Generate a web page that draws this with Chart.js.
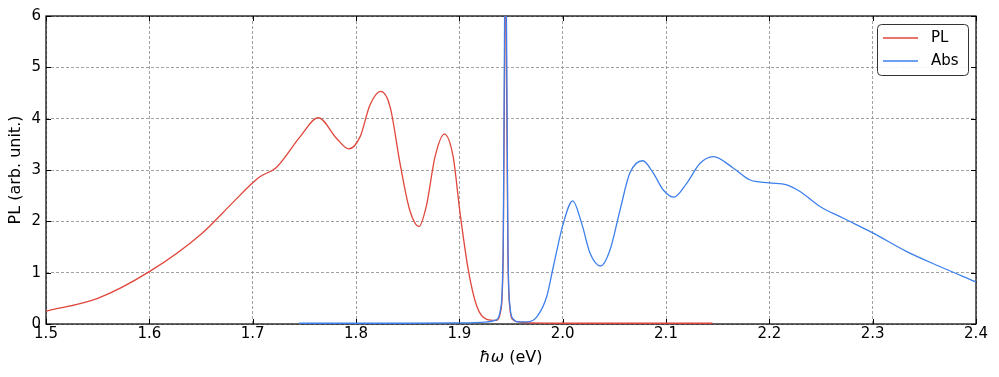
<!DOCTYPE html>
<html>
<head>
<meta charset="utf-8">
<script src="https://cdn.jsdelivr.net/npm/chart.js@4/dist/chart.umd.min.js"></script>
<style>
  html, body { margin:0; padding:0; background:#fff; }
  #wrap { width:999px; height:377px; }
</style>
</head>
<body>
<div id="wrap"><canvas id="c" width="999" height="377"></canvas></div>
<script>
// Datos
const plX = [1.50,1.55,1.60,1.65,1.68,1.70,1.707,1.723,1.746,1.7635,1.781,1.793,1.804,1.8136,1.824,1.833,1.8426,1.852,1.861,1.868,1.8765,1.8855,1.894,1.9007,1.9087,1.917,1.9265,1.936,1.940,1.9425,1.9438,1.9447,1.9456,1.947,1.949,1.952,1.958,1.968,2.00,2.145];
const plY = [0.25,0.50,1.02,1.75,2.35,2.75,2.87,3.05,3.65,4.02,3.62,3.41,3.65,4.27,4.53,4.23,3.13,2.22,1.90,2.29,3.26,3.70,3.26,2.16,1.05,0.34,0.09,0.07,0.25,1.4,5.0,8.5,5.0,1.4,0.3,0.08,0.04,0.02,0.015,0.015];
const absX = [1.745,1.85,1.90,1.925,1.936,1.940,1.9425,1.9438,1.9447,1.9456,1.947,1.949,1.952,1.958,1.965,1.975,1.9845,1.991,2.0006,2.0097,2.0184,2.0265,2.0368,2.0458,2.0555,2.065,2.0775,2.0877,2.0974,2.1077,2.12,2.133,2.1458,2.165,2.181,2.20,2.2168,2.2297,2.249,2.2716,2.3006,2.333,2.365,2.40];
const absY = [0.015,0.015,0.02,0.035,0.08,0.3,1.6,6.0,10.0,6.0,1.6,0.35,0.1,0.04,0.04,0.14,0.53,1.12,1.96,2.40,1.96,1.38,1.13,1.44,2.22,2.94,3.18,2.94,2.61,2.47,2.74,3.13,3.26,3.04,2.81,2.75,2.71,2.58,2.29,2.06,1.77,1.41,1.12,0.82];
const xTicks = [1.5,1.6,1.7,1.8,1.9,2.0,2.1,2.2,2.3,2.4];
const yTicks = [0,1,2,3,4,5,6];

const FONT = 'DejaVu Sans';
const RED = '#e0463b';
const BLUE = '#3d80ec';

function pts(xs, ys){ return xs.map((x,i)=>({x:x, y:ys[i]})); }

// marco, ticks hacia dentro, título x y leyenda
const framePlugin = {
  id:'frame',
  beforeDatasetsDraw(chart){
    const c = chart.ctx, a = chart.chartArea;
    const xs = chart.scales.x, ys = chart.scales.y;
    c.save();
    c.strokeStyle = '#000'; c.lineWidth = 1.2;
    c.strokeRect(a.left, a.top, a.right-a.left, a.bottom-a.top);
    c.lineWidth = 1;
    c.beginPath();
    yTicks.forEach(v=>{
      const p = Math.round(ys.getPixelForValue(v))+0.5;
      c.moveTo(a.left, p); c.lineTo(a.left+5, p);
      c.moveTo(a.right, p); c.lineTo(a.right-5, p);
    });
    xTicks.forEach(v=>{
      const p = Math.round(xs.getPixelForValue(v))+0.5;
      c.moveTo(p, a.bottom); c.lineTo(p, a.bottom-5);
      c.moveTo(p, a.top); c.lineTo(p, a.top+5);
    });
    c.stroke();
    // título eje x: ħω (eV)
    c.fillStyle = '#000'; c.textBaseline = 'middle'; c.textAlign = 'left';
    const fi = 'italic 16px "'+FONT+'"', fn = '16px "'+FONT+'"';
    c.font = fi; const w1 = c.measureText('ħω').width;
    c.font = fn; const w2 = c.measureText(' (eV)').width;
    const x0 = (a.left+a.right)/2 - (w1+w2)/2;
    c.font = fi; c.fillText('ħω', x0, 358);
    c.font = fn; c.fillText(' (eV)', x0+w1, 358);
    c.restore();
  },
  afterDraw(chart){
    const c = chart.ctx;
    c.save();
    const bx=877.5, by=24.5, bw=91, bh=51, r=4;
    c.fillStyle='rgba(255,255,255,0.9)';
    c.strokeStyle='#333'; c.lineWidth=1;
    c.beginPath();
    c.moveTo(bx+r,by); c.lineTo(bx+bw-r,by); c.arcTo(bx+bw,by,bx+bw,by+r,r);
    c.lineTo(bx+bw,by+bh-r); c.arcTo(bx+bw,by+bh,bx+bw-r,by+bh,r);
    c.lineTo(bx+r,by+bh); c.arcTo(bx,by+bh,bx,by+bh-r,r);
    c.lineTo(bx,by+r); c.arcTo(bx,by,bx+r,by,r);
    c.closePath(); c.fill(); c.stroke();
    c.font = '15px "'+FONT+'"'; c.textBaseline='middle'; c.textAlign='left';
    chart.data.datasets.forEach((d,i)=>{
      const y = 38 + i*23;
      c.strokeStyle = d.borderColor; c.lineWidth = 1.3;
      c.beginPath(); c.moveTo(883,y); c.lineTo(918,y); c.stroke();
      c.fillStyle = '#000'; c.fillText(d.label, 931, y);
    });
    c.restore();
  }
};

new Chart(document.getElementById('c').getContext('2d'), {
  type:'line',
  data:{ datasets:[
    { label:'PL', data:pts(plX,plY), borderColor:RED, borderWidth:1.3, pointRadius:0, cubicInterpolationMode:'monotone', fill:false, order:1 },
    { label:'Abs', data:pts(absX,absY), borderColor:BLUE, borderWidth:1.3, pointRadius:0, cubicInterpolationMode:'monotone', fill:false, order:0 }
  ]},
  options:{
    responsive:false, animation:false,
    layout:{ padding:{ top:16, right:23, left:6, bottom:0 } },
    plugins:{ legend:{ display:false }, tooltip:{ enabled:false } },
    scales:{
      x:{
        type:'linear', min:1.5, max:2.4,
        afterBuildTicks(s){ s.ticks = xTicks.map(v=>({value:v})); },
        afterFit(s){ s.height = 53; },
        grid:{ color:'#8a8a8a', lineWidth:0.8, drawTicks:false },
        border:{ display:false, dash:[3,2] },
        ticks:{ color:'#000', font:{ family:FONT, size:15 }, padding:1, maxRotation:0, callback:v=>v.toFixed(1) },
        title:{ display:false }
      },
      y:{
        min:0, max:6,
        afterBuildTicks(s){ s.ticks = yTicks.map(v=>({value:v})); },
        afterFit(s){ s.width = 40; },
        grid:{ color:'#8a8a8a', lineWidth:0.8, drawTicks:false },
        border:{ display:false, dash:[3,2] },
        ticks:{ color:'#000', font:{ family:FONT, size:15 }, padding:5, callback:v=>String(v) },
        title:{ display:true, text:'PL (arb. unit.)', color:'#000', font:{ family:FONT, size:16 }, padding:{ top:0, bottom:3 } }
      }
    }
  },
  plugins:[framePlugin]
});
</script>
</body>
</html>
